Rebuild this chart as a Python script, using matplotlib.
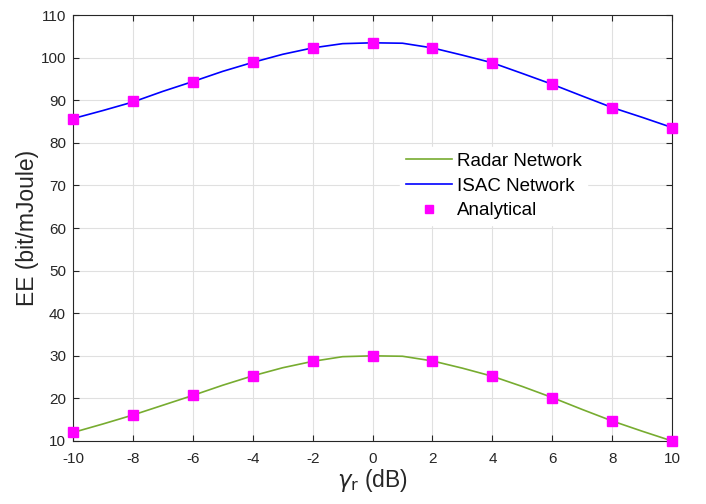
import matplotlib
matplotlib.use("Agg")
import matplotlib.pyplot as plt
from matplotlib.lines import Line2D

plt.rcParams['font.family'] = ['Liberation Sans', 'DejaVu Sans']
plt.rcParams['axes.unicode_minus'] = False

gamma_line = list(range(-10, 11))
isac_line = [85.7, 87.6, 89.6, 92.1, 94.4, 96.8, 98.9, 100.8, 102.3, 103.3, 103.5,
             103.4, 102.3, 100.6, 98.8, 96.3, 93.75, 91.0, 88.3, 86.0, 83.6]
radar_line = [12.0, 14.0, 16.1, 18.4, 20.7, 23.1, 25.3, 27.2, 28.7, 29.8, 30.0,
              29.9, 28.8, 27.1, 25.2, 22.8, 20.2, 17.4, 14.7, 12.3, 10.0]

gamma_mark = [-10, -8, -6, -4, -2, 0, 2, 4, 6, 8, 10]
isac_mark = [85.7, 89.8, 94.4, 98.9, 102.3, 103.5, 102.3, 98.8, 93.75, 88.3, 83.6]
radar_mark = [12.0, 16.1, 20.7, 25.3, 28.7, 30.0, 28.8, 25.2, 20.2, 14.7, 10.0]

xticks = list(range(-10, 11, 2))
yticks = list(range(10, 111, 10))

fig = plt.figure(figsize=(7.06, 5.04), dpi=100)
ax = fig.add_axes([0.1034, 0.125, 0.8486, 0.845])

green = (0.466, 0.674, 0.188)
txt = (0.15, 0.15, 0.15)
ax.plot(gamma_line, radar_line, color=green, lw=1.2, zorder=3)
ax.plot(gamma_line, isac_line, color='blue', lw=1.2, zorder=3)
ax.plot(gamma_mark, radar_mark, 's', color='magenta', ms=6.5, zorder=4, clip_on=False)
ax.plot(gamma_mark, isac_mark, 's', color='magenta', ms=6.5, zorder=4, clip_on=False)

ax.set_xlim(-10, 10)
ax.set_ylim(10, 110)
ax.set_xticks(xticks)
ax.set_yticks(yticks)
ax.grid(True, color=(0.88, 0.88, 0.88), lw=0.8)
ax.set_axisbelow(True)
ax.tick_params(direction='in', length=4, labelsize=11, colors=txt,
               top=True, right=True)
ax.tick_params(axis='x', pad=8)
ax.tick_params(axis='y', pad=5)
for s in ax.spines.values():
    s.set_color(txt)
    s.set_linewidth(0.8)

ax.set_xlabel(r'$\gamma_{\mathrm{r}}$ (dB)', fontsize=16.5, color=txt, labelpad=1)
ax.set_ylabel('EE (bit/mJoule)', fontsize=16.5, color=txt, labelpad=1)

handles = [Line2D([], [], color=green, lw=1.2),
           Line2D([], [], color='blue', lw=1.2),
           Line2D([], [], ls='none', marker='s', color='magenta', ms=6)]
labels = ['Radar Network', 'ISAC Network', 'Analytical']
leg = ax.legend(handles, labels, loc='upper left', bbox_to_anchor=(0.53, 0.712),
                frameon=True, fontsize=13.5, handlelength=2.5, borderpad=0.3,
                labelspacing=0.4, handletextpad=0.22)
leg.get_frame().set_edgecolor('white')
leg.get_frame().set_facecolor('white')
leg.get_frame().set_alpha(1)
for t in leg.get_texts():
    t.set_color('black')

fig.savefig('out.png', dpi=100)
